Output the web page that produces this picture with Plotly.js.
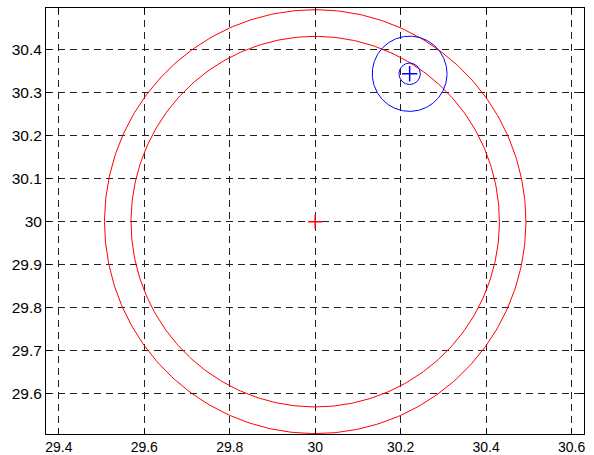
<!DOCTYPE html>
<html><head><meta charset="utf-8">
<script src="https://cdn.plot.ly/plotly-3.0.1.min.js"></script>
<style>html,body{margin:0;padding:0;background:#fff}#plot{width:594px;height:455px}</style>
</head><body><div id="plot"></div>
<script>
// Circles: centres and radii
const redCenterX = [30.0, 30.0];
const redCenterY = [30.0, 30.0];
const redRadius = [0.493, 0.431];
const blueCenterX = [30.221, 30.221];
const blueCenterY = [30.344, 30.344];
const blueRadius = [0.0875, 0.025];
// Centre markers
const markX = [30.0, 30.221];
const markY = [30.0, 30.344];
const markColor = ['#ff0000', '#0000ff'];
const markSize = [10, 11];
// Tick labels
const xTicks = [29.4, 29.6, 29.8, 30.0, 30.2, 30.4, 30.6];
const xTickText = ['29.4', '29.6', '29.8', '30', '30.2', '30.4', '30.6'];
const yTicks = [29.6, 29.7, 29.8, 29.9, 30.0, 30.1, 30.2, 30.3, 30.4];
const yTickText = ['29.6', '29.7', '29.8', '29.9', '30', '30.1', '30.2', '30.3', '30.4'];

function circle(cx, cy, r, color) {
  const xs = [], ys = [];
  const n = 360;
  for (let i = 0; i <= n; i++) {
    const t = 2 * Math.PI * i / n;
    xs.push(cx + r * Math.cos(t));
    ys.push(cy + r * Math.sin(t));
  }
  return {x: xs, y: ys, type: 'scatter', mode: 'lines', line: {color: color, width: 1}, hoverinfo: 'skip', showlegend: false};
}
const traces = [];
for (let i = 0; i < redRadius.length; i++) traces.push(circle(redCenterX[i], redCenterY[i], redRadius[i], '#ff0000'));
for (let i = 0; i < blueRadius.length; i++) traces.push(circle(blueCenterX[i], blueCenterY[i], blueRadius[i], '#0000ff'));
for (let i = 0; i < markX.length; i++) {
  traces.push({x: [markX[i]], y: [markY[i]], type: 'scatter', mode: 'markers',
    marker: {symbol: 'cross-thin', size: markSize[i], line: {color: markColor[i], width: 1.5}, color: markColor[i]},
    showlegend: false});
}
const axisCommon = {
  showgrid: true, gridcolor: '#222', gridwidth: 1, griddash: '7px,5px',
  zeroline: false, showline: true, linecolor: '#000', linewidth: 1, mirror: 'allticks',
  ticks: 'inside', ticklen: 5, tickcolor: '#000', tickmode: 'array'
};
const layout = {
  width: 594, height: 455,
  margin: {l: 46, r: 10, t: 8, b: 21},
  paper_bgcolor: '#fff', plot_bgcolor: '#fff',
  showlegend: false,
  xaxis: Object.assign({}, axisCommon, {range: [29.37, 30.629], tickvals: xTicks, ticktext: xTickText,
    tickfont: {family: 'Liberation Sans, Arial, sans-serif', size: 14, color: '#000'}}),
  yaxis: Object.assign({}, axisCommon, {range: [29.506, 30.497], tickvals: yTicks, ticktext: yTickText,
    tickfont: {family: 'Liberation Sans, Arial, sans-serif', size: 15.5, color: '#000'}})
};
Plotly.newPlot('plot', traces, layout, {displayModeBar: false, staticPlot: true});
</script></body></html>
